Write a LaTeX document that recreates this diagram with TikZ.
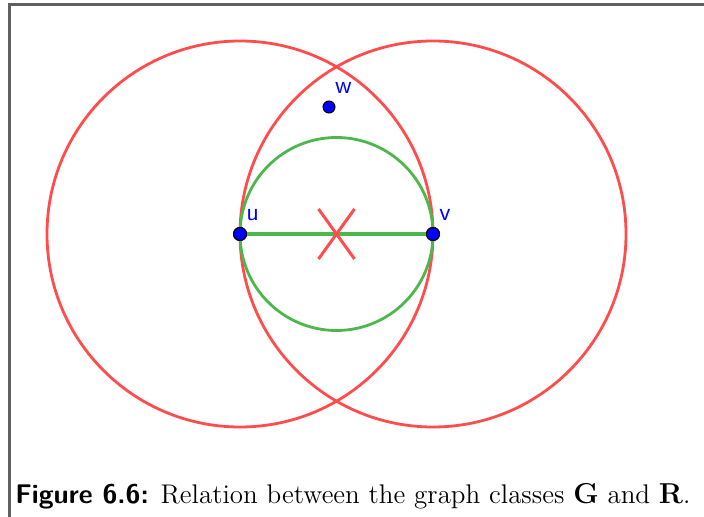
\documentclass[tikz,border=0pt]{standalone}
\usepackage{amsmath}
\usepackage{xcolor}
\usetikzlibrary{positioning}
\definecolor{circlered}{HTML}{FF4D4D}
\definecolor{circlegreen}{HTML}{4CB84C}
\definecolor{pointblue}{HTML}{0000FF}
\definecolor{framegray}{HTML}{606060}
\tikzset{
  redring/.style={draw=circlered, line width=1.4pt},
  greenring/.style={draw=circlegreen, line width=1.4pt},
  edgeline/.style={draw=circlegreen, line width=1.7pt},
  crossline/.style={draw=circlered, line width=1.5pt},
  vertex/.style={circle, draw=black, line width=0.5pt, fill=pointblue, inner sep=0pt, minimum size=6.5pt},
  ptlabel/.style={text=pointblue, font=\fontsize{12.5}{14}\sffamily, inner sep=0pt},
}

\begin{document}
\begin{tikzpicture}[x=0.5pt, y=-0.5pt]
  \useasboundingbox (0,0) rectangle (704,517);
  % page frame (cropped at right and bottom)
  \draw[framegray, line width=1.1pt] (9.5,517) -- (9.5,4.5) -- (704,4.5);

  % the three points
  \node[vertex] (u) at (240,234) {};
  \node[vertex] (v) at (433,234) {};
  \node[vertex, minimum size=6pt] (w) at (329,107) {};
  \coordinate (m) at (336.5,234);

  % circles around u and v through the other point
  \draw[redring] (u.center) circle (193);
  \draw[redring] (v.center) circle (193);

  % circle with diameter uv
  \draw[greenring] (m) circle (96.5);
  \draw[edgeline] (u) -- (v);

  % the crossed-out edge
  \draw[crossline] ([shift={(-18,-25)}]m) -- ([shift={(18,25)}]m);
  \draw[crossline] ([shift={(18,-25)}]m) -- ([shift={(-18,25)}]m);

  % redraw points on top
  \node[vertex] at (u) {};
  \node[vertex] at (v) {};

  % point labels
  \node[ptlabel, above right=4pt and 0.5pt of u] (ulabel) {u};
  \node[ptlabel, above right=4pt and 0.5pt of v] (vlabel) {v};
  \node[ptlabel, above right=4pt and 0.5pt of w] (wlabel) {w};

  % caption
  \node[anchor=base west, inner sep=0pt, font=\fontsize{13.5}{16}\selectfont] (caption) at (15,503)
    {{\sffamily\bfseries Figure 6.6:} Relation between the graph classes $\mathbf{G}$ and $\mathbf{R}$.};
\end{tikzpicture}
\end{document}
